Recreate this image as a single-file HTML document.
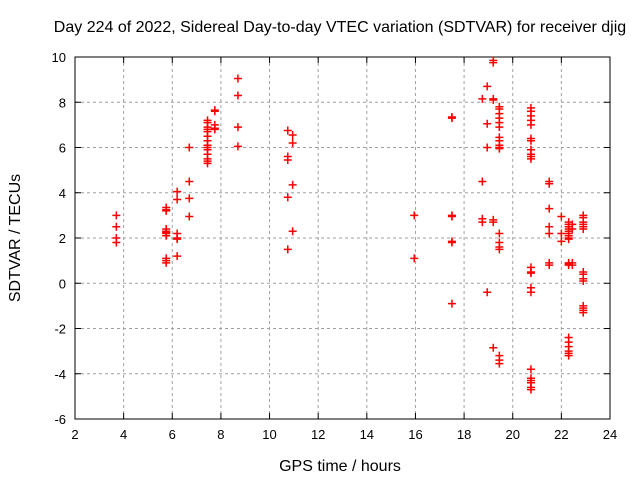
<!DOCTYPE html>
<html><head><meta charset="utf-8"><style>
body{margin:0;background:#fff}
svg{display:block;font-family:"Liberation Sans",sans-serif}
</style></head><body>
<svg id="chart" width="640" height="480">
<text x="340" y="32" font-size="16" text-anchor="middle">Day 224 of 2022, Sidereal Day-to-day VTEC variation (SDTVAR) for receiver djig</text>
<text x="340" y="471" font-size="16" text-anchor="middle">GPS time / hours</text>
<text transform="translate(20,238) rotate(-90)" font-size="16" text-anchor="middle">SDTVAR / TECUs</text>
<g id="grid"></g><g id="axes"></g><g id="pts"></g>
</svg>
<script>
const xTicks=[2,4,6,8,10,12,14,16,18,20,22,24];
const yTicks=[-6,-4,-2,0,2,4,6,8,10];
const groupHours=[3.7,5.75,6.2,6.7,7.45,7.75,8.7,10.75,10.95,15.95,17.5,18.75,18.95,19.2,19.45,20.75,21.5,22.0,22.3,22.45,22.9];
const groupValues=[
[3.0,2.5,2.0,1.8],
[3.35,3.2,3.25,2.3,2.2,2.4,2.25,2.1,1.1,1.0,0.9],
[4.05,3.7,2.2,2.0,1.95,1.2],
[6.0,4.5,3.75,2.95],
[7.2,7.1,6.9,6.8,6.7,6.5,6.3,6.1,6.0,5.9,5.7,5.5,5.4,5.3],
[7.6,7.65,7.0,6.85,6.8],
[9.05,8.3,6.9,6.05],
[6.75,5.6,5.45,3.8,1.5],
[6.55,6.2,4.35,2.3],
[3.0,1.1],
[7.3,7.35,3.0,2.95,1.85,1.8,-0.9],
[8.15,4.5,2.85,2.7],
[8.7,7.05,6.0,-0.4],
[9.85,9.75,8.15,8.1,2.8,2.7,-2.85],
[7.8,7.7,7.5,7.3,7.1,6.9,6.45,6.3,6.1,6.0,5.95,2.2,1.8,1.6,1.5,-3.2,-3.4,-3.55],
[7.75,7.6,7.4,7.2,7.0,6.4,6.3,5.9,5.7,5.6,5.5,0.7,0.5,0.45,-0.2,-0.4,-3.8,-4.2,-4.3,-4.4,-4.6,-4.7],
[4.5,4.4,3.3,2.5,2.2,0.9,0.8],
[2.95,2.2,1.85],
[2.7,2.6,2.5,2.4,2.3,2.2,2.1,2.0,1.95,0.9,0.85,0.8,-2.4,-2.6,-2.8,-3.0,-3.1,-3.2],
[2.6,2.4,0.9,0.8],
[3.0,2.9,2.7,2.6,2.5,2.4,0.5,0.4,0.2,0.1,-1.0,-1.1,-1.2,-1.3]
];
const L=75,R=610,T=57,B=419;
const xs=h=>L+(h-2)/22*(R-L);
const ys=v=>B-(v+6)/16*(B-T);
const NS="http://www.w3.org/2000/svg";
function mk(tag,parent,attrs){const e=document.createElementNS(NS,tag);for(const k in attrs)e.setAttribute(k,attrs[k]);parent.appendChild(e);return e;}
const grid=document.getElementById('grid'),axes=document.getElementById('axes'),pts=document.getElementById('pts');
xTicks.forEach(t=>{const x=xs(t);
 if(t>2&&t<24){const g=mk('line',grid,{x1:x,x2:x,y1:T,y2:B,stroke:'#a0a0a0','stroke-dasharray':'3,3'});
 
 }
 mk('line',axes,{x1:x,x2:x,y1:B,y2:B-6,stroke:'#000'});mk('line',axes,{x1:x,x2:x,y1:T,y2:T+6,stroke:'#000'});
 const tx=mk('text',axes,{x:x,y:B+20,'font-size':13,'text-anchor':'middle'});tx.textContent=t;
 
 
});
yTicks.forEach(t=>{const y=ys(t);
 if(t>-6&&t<10){const g=mk('line',grid,{x1:L,x2:R,y1:y,y2:y,stroke:'#a0a0a0','stroke-dasharray':'3,3'});
 
 }
 mk('line',axes,{x1:L,x2:L+6,y1:y,y2:y,stroke:'#000'});mk('line',axes,{x1:R,x2:R-6,y1:y,y2:y,stroke:'#000'});
 const tx=mk('text',axes,{x:L-9,y:y+5,'font-size':13,'text-anchor':'end'});tx.textContent=t;
 
 
});
const fr=mk('rect',axes,{x:L,y:T,width:R-L,height:B-T,fill:'none',stroke:'#000'});


groupHours.forEach((h,i)=>{groupValues[i].forEach(v=>{
 const x=xs(h),y=ys(v);
 const p=mk('path',pts,{d:`M${x-4},${y}H${x+4}M${x},${y-4}V${y+4}`,stroke:'#f00','stroke-width':1.5});
 
 
});});
</script>
</body></html>
